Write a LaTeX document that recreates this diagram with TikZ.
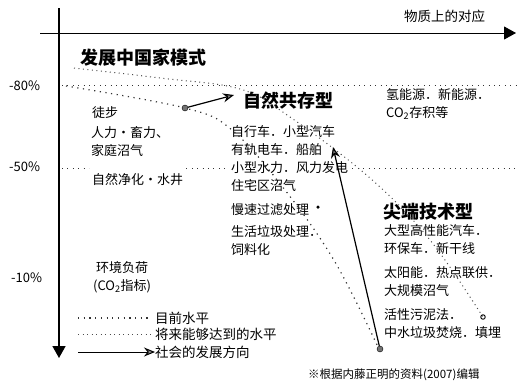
\documentclass[tikz,border=0pt]{standalone}
\usepackage{fontspec}
\setmainfont{Noto Sans CJK SC}
\usetikzlibrary{arrows.meta}
\begin{document}
\begin{tikzpicture}[x=1pt,y=-1pt,
  txt/.style={anchor=west,inner sep=0pt,font=\fontsize{13}{18}\selectfont},
  blk/.style={anchor=north west,inner sep=0pt,align=left,font=\fontsize{13}{18}\selectfont},
  head/.style={anchor=west,inner sep=0pt,font=\fontsize{18}{20}\selectfont\bfseries},
  pct/.style={anchor=west,inner sep=0pt,font=\fontsize{13}{15}\selectfont},
  leg/.style={anchor=west,inner sep=0pt,font=\fontsize{13.5}{15}\selectfont},
  axis/.style={draw=black,-{Triangle[length=12pt,width=13pt]}},
  level/.style={draw=black!80,line width=0.9pt,dash pattern=on 0.9pt off 4.5pt},
  nowcurve/.style={draw=black!80,line width=1.2pt,dash pattern=on 1.2pt off 4.5pt},
  futcurve/.style={draw=black!70,line width=1pt,dash pattern=on 1pt off 3.5pt},
  devarrow/.style={draw=black,line width=1.2pt,-{Stealth[length=11pt,width=9pt,fill=black!45]}},
  blob/.style={circle,fill=black!55,draw=black,inner sep=0pt,minimum size=6pt},
  ring/.style={circle,draw=black,line width=0.9pt,inner sep=0pt,minimum size=4.5pt}
]
\useasboundingbox (0,0) rectangle (520,389);

% axes
\coordinate (vtop) at (59,8);
\coordinate (vbot) at (59,358);
\coordinate (hleft) at (40,33);
\coordinate (hright) at (516,33);
\draw[axis,line width=1.6pt] (vtop) -- (vbot);
\draw[axis,line width=0.9pt] (hleft) -- (hright);

\node[txt,font=\fontsize{13.5}{15}\selectfont] (wz) at (404,16) {物质上的对应};

% percentage labels
\node[pct] (p80) at (9,86) {-80\%};
\node[pct] (p50) at (9,167) {-50\%};
\node[pct] (p10) at (11,278) {-10\%};

% headings
\node[head] (fz) at (80,58) {发展中国家模式};
\node[head] (zr) at (243,101) {自然共存型};
\node[head] (jd) at (383,212) {尖端技术型};

% left column
\node[txt] (tubu) at (92,113) {徒步};
\node[blk] (renli) at (91,126) {人力·畜力、\\家庭沼气};
\node[txt] (jingshui) at (92,180) {自然净化·水井};
\node[blk,align=center] (hj) at (93,261) {环境负荷\\(CO\textsubscript{2}指标)};

% middle column
\node[blk] (zxc) at (231,125) {自行车．小型汽车\\有轨电车．船舶\\小型水力．风力发电\\住宅区沼气};
\node[txt] (mansu) at (231,210) {慢速过滤处理};
\node[blk] (shenghuo) at (231,225) {生活垃圾处理．\\饲料化};

% right column
\node[blk] (qing) at (386,88) {氢能源．新能源．\\CO\textsubscript{2}存积等};
\node[blk] (dx) at (384,224) {大型高性能汽车．\\环保车．新干线};
\node[blk] (ty) at (384,266) {太阳能．热点联供．\\大规模沼气};
\node[blk] (hx) at (384,308) {活性污泥法．\\中水垃圾焚烧．填埋};

% level lines
\coordinate (l80a) at (62,85);
\coordinate (l80b) at (516,85);
\draw[level] (l80a) -- (l80b);
\coordinate (l50a) at (62,168);
\coordinate (l50b) at (516,168);
\draw[level] (l50a) -- ([xshift=-3pt]jingshui.west |- l50a);
\draw[level] ([xshift=3pt]jingshui.east |- l50a) -- ([xshift=-2pt]zxc.west |- l50a);
\draw[level] ([xshift=4pt]zxc.east |- l50a) -- (l50b);

% curves
\coordinate (c1s) at (66,86);
\coordinate (c1e) at (379,349);
\draw[nowcurve] plot[smooth,tension=0.6] coordinates {(c1s) (185,108) (232,130) (285,190) (335,262) (c1e)};
\coordinate (c2s) at (74,68);
\coordinate (c2e) at (483,317);
\draw[futcurve] plot[smooth,tension=0.6] coordinates {(c2s) (160,78) (240,89) (290,117) (370,178) (430,240) (c2e)};
\node[ring] (c2end) at (c2e) {};
\node[circle,fill=black,inner sep=0pt,minimum size=3.5pt] (dot1) at (318,207) {};

% development arrows
\node[blob] (b1) at (185,108) {};
\coordinate (a1e) at (234,95);
\draw[devarrow] (b1) -- (a1e);
\node[blob] (b2) at (380,349) {};
\coordinate (a2e) at (333,147);
\draw[devarrow] (b2) -- (a2e);

% legend
\coordinate (g1a) at (78,318);
\coordinate (g2a) at (78,334);
\coordinate (g3a) at (78,352);
\node[leg] (t1) at (155,318) {目前水平};
\node[leg] (t2) at (155,334) {将来能够达到的水平};
\node[leg] (t3) at (155,352) {社会的发展方向};
\draw[nowcurve] (g1a) -- ([xshift=-4pt]t1.west);
\draw[futcurve] (g2a) -- ([xshift=-4pt]t2.west);
\draw[devarrow,line width=1pt] (g3a) -- (t3.west);

\node[txt,font=\fontsize{11.5}{13}\selectfont] (note) at (308,375) {※根据内藤正明的资料(2007)编辑};
\end{tikzpicture}
\end{document}
